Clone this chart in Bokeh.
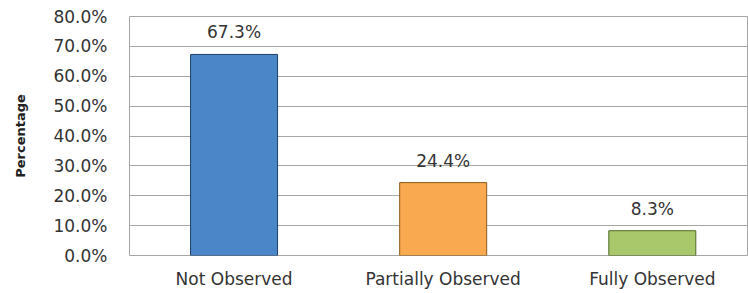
from bokeh.plotting import figure
from bokeh.models import ColumnDataSource, Range1d, FixedTicker, PrintfTickFormatter
from bokeh.core.properties import value
from bokeh.embed import file_html
from bokeh.resources import INLINE

categories = ["Not Observed", "Partially Observed", "Fully Observed"]
percentages = [67.3, 24.4, 8.3]
bar_colors = ["#4a86c8", "#f9a94f", "#a9c86b"]
edge_colors = ["#1f3f66", "#8a5a1a", "#4f6a2a"]
y_ticks = [0, 10, 20, 30, 40, 50, 60, 70, 80]

xs = [i + 0.5 for i in range(len(categories))]
source = ColumnDataSource(dict(
    x=xs,
    top=percentages,
    color=bar_colors,
    edge=edge_colors,
    label=[f"{v:.1f}%" for v in percentages],
))

FONT = "DejaVu Sans"
TXT = "#333333"

p = figure(width=748, height=293, output_backend="svg", toolbar_location=None,
           x_range=Range1d(0, 2.96), y_range=Range1d(0, 80),
           min_border_left=129, min_border_right=0, min_border_top=16, min_border_bottom=38)

p.vbar(x="x", top="top", bottom=0, width=0.416, source=source,
       fill_color="color", line_color="edge", line_width=1)

p.text(x="x", y="top", text="label", source=source, text_align="center",
       text_baseline="bottom", y_offset=-12, text_font=value(FONT),
       text_font_size="17px", text_color=TXT)

p.xaxis.ticker = FixedTicker(ticks=xs)
p.xaxis.major_label_overrides = {x: c for x, c in zip(xs, categories)}
p.yaxis.ticker = FixedTicker(ticks=y_ticks)
p.yaxis.formatter = PrintfTickFormatter(format="%.1f%%")

for ax in (p.xaxis, p.yaxis):
    ax.axis_line_color = None
    ax.major_tick_line_color = None
    ax.minor_tick_line_color = None
    ax.major_tick_out = 0
    ax.major_tick_in = 0
    ax.major_label_text_font = FONT
    ax.major_label_text_font_size = "17px"
    ax.major_label_text_color = TXT

p.xaxis.major_label_standoff = 13
p.yaxis.major_label_standoff = 22
p.yaxis.axis_label = "Percentage"
p.yaxis.axis_label_text_font = FONT
p.yaxis.axis_label_text_font_style = "bold"
p.yaxis.axis_label_text_font_size = "13px"
p.yaxis.axis_label_text_color = "#222222"
p.yaxis.axis_label_standoff = 22

p.xgrid.grid_line_color = None
p.ygrid.grid_line_color = "#a6a6a6"
p.ygrid.grid_line_width = 1
p.outline_line_color = "#a6a6a6"
p.outline_line_width = 1
p.background_fill_color = "white"
p.border_fill_color = "white"

open("out.html", "w").write(file_html(p, INLINE))
